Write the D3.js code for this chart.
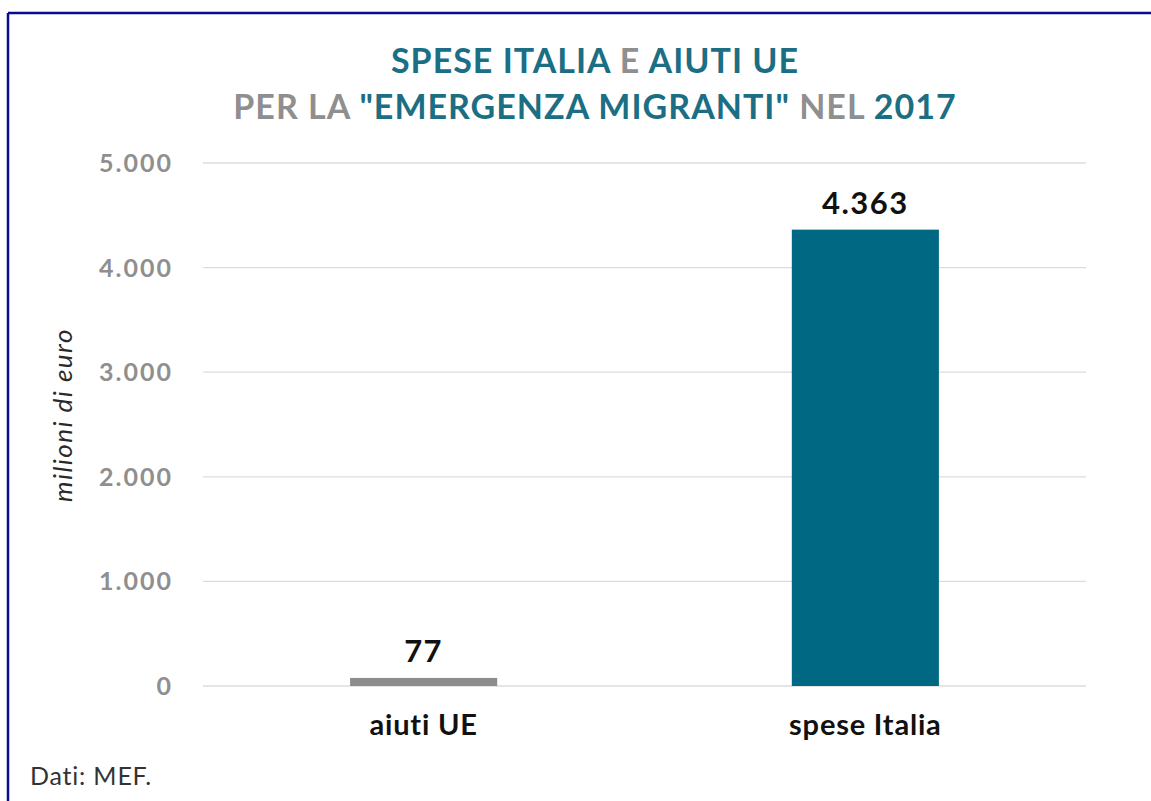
<!DOCTYPE html>
<html>
<head>
<meta charset="utf-8">
<script src="https://cdn.jsdelivr.net/npm/d3@7"></script>
<style>
  html, body { margin: 0; padding: 0; background: #fff; }
  svg { display: block; font-family: Lato, "Open Sans", sans-serif; }
</style>
</head>
<body>
<div id="chart"></div>
<script>
const width = 1151;
const height = 801;

// data
const categories = ["aiuti UE", "spese Italia"];
const values = [77, 4363];
const valueLabels = ["77", "4.363"];
const barColors = ["#8c8c8c", "#006882"];
const yTicks = [0, 1000, 2000, 3000, 4000, 5000];

const teal = "#1b6e83";
const grey = "#8f8f8f";

const margin = { top: 163, right: 65, bottom: 115, left: 203 };

const svg = d3.select("#chart")
    .append("svg")
    .attr("width", width)
    .attr("height", height);

// frame lines (top and left)
svg.append("line")
    .attr("x1", 8).attr("x2", width).attr("y1", 13).attr("y2", 13)
    .attr("stroke", "#0a0a8c").attr("stroke-width", 2.5);
svg.append("line")
    .attr("x1", 8).attr("x2", 8).attr("y1", 13).attr("y2", height)
    .attr("stroke", "#0a0a8c").attr("stroke-width", 2.5);

const x = d3.scaleBand()
    .domain(categories)
    .range([margin.left, width - margin.right])
    .paddingInner(0.667)
    .paddingOuter(0.333);

const y = d3.scaleLinear()
    .domain([0, 5000])
    .range([height - margin.bottom, margin.top]);

const fmt = d => d3.format(",")(d).replace(/,/g, ".");

// gridlines
svg.append("g")
    .selectAll("line")
    .data(yTicks)
    .join("line")
    .attr("x1", margin.left)
    .attr("x2", width - margin.right)
    .attr("y1", d => y(d))
    .attr("y2", d => y(d))
    .attr("stroke", "#dcdcdc")
    .attr("stroke-width", 1.3);

// y tick labels
svg.append("g")
    .selectAll("text")
    .data(yTicks)
    .join("text")
    .attr("x", 173)
    .attr("y", d => y(d))
    .attr("dy", "0.36em")
    .attr("text-anchor", "end")
    .attr("fill", grey)
    .attr("font-size", 25)
    .attr("font-weight", 700)
    .attr("letter-spacing", "2px")
    .text(d => fmt(d));

// y axis title
svg.append("text")
    .attr("transform", "translate(72,415) rotate(-90)")
    .attr("text-anchor", "middle")
    .attr("font-style", "italic")
    .attr("font-weight", 400)
    .attr("font-size", 26)
    .attr("letter-spacing", "1.5px")
    .attr("fill", "#2a2a2a")
    .text("milioni di euro");

// bars
svg.append("g")
    .selectAll("rect")
    .data(categories)
    .join("rect")
    .attr("x", d => x(d))
    .attr("width", x.bandwidth())
    .attr("y", (d, i) => y(values[i]))
    .attr("height", (d, i) => y(0) - y(values[i]))
    .attr("fill", (d, i) => barColors[i]);

// value labels
svg.append("g")
    .selectAll("text")
    .data(categories)
    .join("text")
    .attr("x", d => x(d) + x.bandwidth() / 2)
    .attr("y", (d, i) => y(values[i]) - 16)
    .attr("text-anchor", "middle")
    .attr("font-size", 31)
    .attr("font-weight", 700)
    .attr("letter-spacing", "1.5px")
    .attr("fill", "#111")
    .text((d, i) => valueLabels[i]);

// category labels
svg.append("g")
    .selectAll("text")
    .data(categories)
    .join("text")
    .attr("x", d => x(d) + x.bandwidth() / 2)
    .attr("y", 735)
    .attr("text-anchor", "middle")
    .attr("font-size", 29)
    .attr("font-weight", 700)
    .attr("letter-spacing", "0.8px")
    .attr("fill", "#111")
    .text(d => d);

// title
const titleLines = [
    [["SPESE ITALIA ", teal], ["E ", grey], ["AIUTI UE", teal]],
    [["PER LA ", grey], ["\"EMERGENZA MIGRANTI\" ", teal], ["NEL ", grey], ["2017", teal]]
];
titleLines.forEach((parts, i) => {
    const t = svg.append("text")
        .attr("x", 595)
        .attr("y", 73 + i * 46)
        .attr("text-anchor", "middle")
        .attr("font-size", 34)
        .attr("font-weight", 700)
        .attr("letter-spacing", "1px");
    parts.forEach(p => {
        t.append("tspan").attr("fill", p[1]).text(p[0]);
    });
});

// source
svg.append("text")
    .attr("x", 30)
    .attr("y", 785)
    .attr("font-size", 25)
    .attr("letter-spacing", "0.8px")
    .attr("fill", "#333")
    .text("Dati: MEF.");
</script>
</body>
</html>
